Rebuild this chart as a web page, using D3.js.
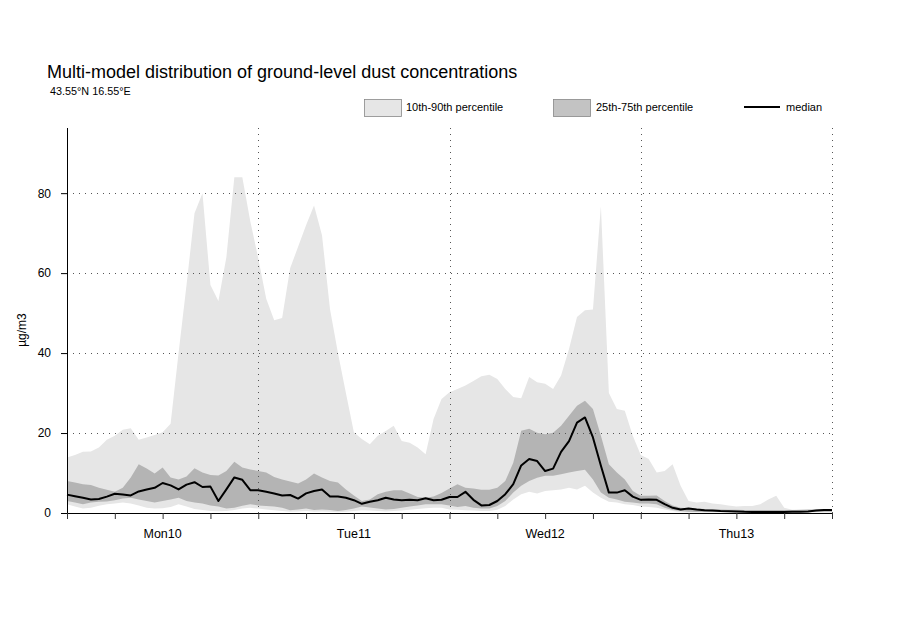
<!DOCTYPE html>
<html><head><meta charset="utf-8">
<script src="https://cdn.jsdelivr.net/npm/d3@7"></script>
<style>body{margin:0;background:#fff}svg{display:block;font-family:"Liberation Sans",Arial,sans-serif}</style>
</head><body><svg id="c" width="900" height="643"></svg>
<script>
const dayLabels = ["Mon10","Tue11","Wed12","Thu13"];
const yTicks = [0,20,40,60,80];
// hourly values, Mon10 00 UTC .. Fri14 00 UTC
const p90 = [13.9,14.5,15.3,15.4,16.4,18.3,19.3,20.8,21.2,18.3,18.9,19.5,20.2,22.3,40,57,75,80,57,53,64,84,84,73,
  63.7,53.6,48.2,48.8,61.2,66.6,72,76.9,69.5,51,40,30,20.2,18.5,17.2,19.3,20.5,21.8,18,17.6,16.4,14.7,23.5,28.5,
  30.2,31,31.9,33,34.2,34.6,33.5,31,29,28.7,34,32.7,32.3,31,34.4,41,49,50.7,50.9,76.7,30,26,25.6,19.3,
  14.5,13.5,10.1,10.5,12.2,6.8,3.0,2.6,2.8,2.4,2.2,1.9,1.6,1.75,1.75,2.2,3.4,4.3,1.3,0.8,0.7,0.7,0.8,0.9,1.0];
const p75 = [8.0,7.6,7.2,7.0,6.3,5.8,5.3,6.3,8.9,12.2,11.1,9.9,11.4,8.9,8.4,9.1,11.2,10.1,9.5,9.4,10.5,12.8,11.4,10.9,
  10.5,10.1,9.0,8.4,7.9,7.4,8.4,9.9,8.9,8.0,7.6,5.9,4.4,3.0,3.4,4.7,5.3,5.7,5.7,4.9,4.0,3.8,4.1,5.0,
  6.1,7.2,6.3,6.1,5.8,5.8,6.3,8.0,12.6,20.6,21.1,20.1,19.7,20.1,21.8,24.3,26.8,28.1,26,19.3,12.2,10.1,8.4,5.5,
  4.3,4.3,4.4,3.0,1.9,1.3,1.2,1.1,1.0,0.9,0.85,0.8,0.8,0.75,0.75,0.75,0.75,0.75,0.75,0.75,0.8,0.85,0.9,1.0,1.0];
const median = [4.6,4.2,3.8,3.4,3.5,4.1,4.8,4.6,4.4,5.4,5.9,6.3,7.5,6.9,5.9,7.1,7.7,6.5,6.6,3.0,5.9,8.9,8.3,5.7,
  5.7,5.3,4.9,4.4,4.5,3.6,4.9,5.5,5.9,4.1,4.1,3.8,3.2,2.3,2.8,3.2,3.8,3.4,3.2,3.3,3.2,3.7,3.2,3.3,
  4.0,4.0,5.3,3.3,1.9,2.0,3.0,4.7,7.2,11.9,13.5,13.0,10.5,11.1,15.3,18.0,22.6,23.9,18.9,11.8,5.1,5.1,5.7,4.1,
  3.3,3.4,3.3,2.2,1.3,0.9,1.1,0.85,0.7,0.6,0.5,0.45,0.4,0.3,0.25,0.25,0.25,0.25,0.25,0.3,0.3,0.4,0.6,0.75,0.75];
const p25 = [3.0,2.6,2.2,2.6,2.8,2.9,3.2,3.6,3.8,3.4,3.0,2.6,3.0,3.4,3.8,3.0,2.6,2.4,1.9,1.6,1.1,1.3,1.8,2.2,
  1.9,1.75,1.6,1.3,0.7,0.9,1.1,0.75,0.9,0.75,0.5,0.75,1.1,1.6,1.4,1.1,0.9,1.0,1.3,1.6,1.9,2.2,2.2,2.2,
  1.9,1.5,1.75,1.3,1.1,1.1,1.75,3.0,5.1,6.8,8.0,8.8,9.3,9.3,9.7,10.1,10.5,10.8,8.4,5.1,3.8,3.4,2.8,2.6,
  2.4,2.4,2.2,1.3,0.75,0.5,0.3,0.25,0.25,0.25,0.25,0.25,0.2,0.2,0.2,0.2,0.2,0.2,0.2,0.2,0.2,0.25,0.3,0.3,0.3];
const p10 = [2.2,1.6,1.1,1.3,1.8,2.2,2.4,2.6,2.4,1.9,1.3,1.1,1.2,1.5,2.2,1.6,1.0,0.75,0.5,0.45,0.5,0.75,1.1,1.3,
  1.1,0.9,0.7,0.5,0.3,0.4,0.5,0.3,0.4,0.3,0.2,0.3,0.5,0.7,0.6,0.5,0.4,0.5,0.6,0.8,1.0,1.2,1.3,1.3,
  0.9,0.8,0.7,0.6,0.5,0.5,0.8,1.75,3.4,4.7,5.3,4.9,5.5,5.7,5.9,6.3,5.9,6.8,5.1,3.8,2.8,2.6,2.2,2.0,
  1.6,1.5,1.3,0.9,0.5,0.2,0.1,0.1,0.1,0.1,0.1,0.1,0.1,0.1,0.1,0.1,0.1,0.1,0.1,0.1,0.1,0.1,0.1,0.1,0.1];

const svg = d3.select("#c");
const x = d3.scaleLinear().domain([0,96]).range([67,832]);
const y = d3.scaleLinear().domain([0,96.3]).range([513,128]);
const hours = d3.range(p90.length);

svg.append("text").attr("x",47).attr("y",78).attr("font-size",18).attr("fill","#000")
  .text("Multi-model distribution of ground-level dust concentrations");
svg.append("text").attr("x",50).attr("y",95).attr("font-size",10.8).attr("fill","#000")
  .text("43.55°N 16.55°E");

// legend
const lg = svg.append("g").attr("font-size",11);
lg.append("rect").attr("x",364.5).attr("y",99.5).attr("width",37).attr("height",17).attr("fill","#e6e6e6").attr("stroke","#888").attr("stroke-width",0.8);
lg.append("text").attr("x",406).attr("y",111).text("10th-90th percentile");
lg.append("rect").attr("x",553.5).attr("y",99.5).attr("width",37).attr("height",17).attr("fill","#c3c3c3").attr("stroke","#888").attr("stroke-width",0.8);
lg.append("text").attr("x",596).attr("y",111).text("25th-75th percentile");
lg.append("line").attr("x1",744).attr("x2",780).attr("y1",107).attr("y2",107).attr("stroke","#000").attr("stroke-width",2);
lg.append("text").attr("x",786).attr("y",111).text("median");

// bands
const area = (lo,hi) => d3.area().x(i=>x(i)).y0(i=>y(lo[i])).y1(i=>y(hi[i]));
svg.append("path").datum(hours).attr("d",area(p10,p90)).attr("fill","#e6e6e6");
svg.append("path").datum(hours).attr("d",area(p25,p75)).attr("fill","#b4b4b4");

// grid
const g = svg.append("g").attr("stroke","#555").attr("stroke-width",1).attr("stroke-dasharray","1,5");
yTicks.filter(v=>v>0).forEach(v=>{
  g.append("line").attr("x1",x(0)).attr("x2",x(96)).attr("y1",Math.round(y(v))+0.5).attr("y2",Math.round(y(v))+0.5);
});
[24,48,72,96].forEach(h=>{
  g.append("line").attr("x1",Math.round(x(h))+0.5).attr("x2",Math.round(x(h))+0.5).attr("y1",128).attr("y2",513);
});

// median
svg.append("path").datum(hours).attr("d",d3.line().x(i=>x(i)).y(i=>y(median[i])))
  .attr("fill","none").attr("stroke","#000").attr("stroke-width",2).attr("stroke-linejoin","round");

// axes
const yAxis = d3.axisLeft(y).tickValues(yTicks).tickSize(6).tickPadding(10).tickFormat(d3.format("d"));
const ya = svg.append("g").attr("transform","translate(67,0)").call(yAxis);
ya.select(".domain").attr("d","M0.5,128V513.5");
ya.selectAll("text").attr("font-size",12).attr("font-family","Liberation Sans, Arial, sans-serif");

const xAxis = d3.axisBottom(x).tickValues(d3.range(0,97,6)).tickSize(6).tickFormat("");
const xa = svg.append("g").attr("transform","translate(0,513)").call(xAxis);
xa.select(".domain").attr("d","M67,0.5H832");
xa.selectAll(".tick line").attr("stroke","#333");

svg.append("g").selectAll("text").data(dayLabels).join("text")
  .attr("x",(d,i)=>x(i*24+12)).attr("y",538).attr("text-anchor","middle").attr("font-size",12.5).text(d=>d);

svg.append("text").attr("transform","translate(26,330) rotate(-90)").attr("text-anchor","middle")
  .attr("font-size",12).text("µg/m3");
</script></body></html>
